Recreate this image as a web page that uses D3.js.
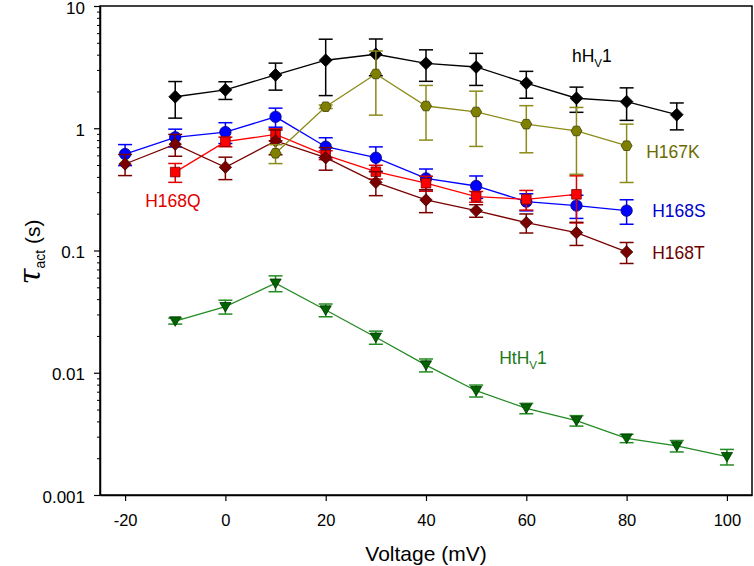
<!DOCTYPE html>
<html><head><meta charset="utf-8">
<script src="https://cdn.jsdelivr.net/npm/d3@7"></script>
<style>body{margin:0;background:#fff}svg{display:block}text{font-family:"Liberation Sans",Arial,sans-serif}</style>
</head><body>
<svg id="c" width="754" height="566"></svg>
<script>
// ---- data ----
const xTicks = [-20,0,20,40,60,80,100];
const yTicks = [0.001,0.01,0.1,1,10];
const yTickLabels = ["0.001","0.01","0.1","1","10"];

const hHv1_V   = [-10,0,10,20,30,40,50,60,70,80,90];
const hHv1_tau = [1.81,2.06,2.73,3.6,4.03,3.40,3.17,2.34,1.76,1.65,1.29];
const hHv1_sem = [0.6,0.34,0.68,1.75,1.34,0.98,0.93,0.58,0.41,0.49,0.32];

const H167K_V   = [10,20,30,40,50,60,70,80];
const H167K_tau = [0.624,1.50,2.78,1.52,1.36,1.08,0.95,0.72];
const H167K_sem = [0.11,0.05,1.5,0.72,0.65,0.45,0.53,0.36];

const H168S_V   = [-20,-10,0,10,20,30,40,50,60,70,80];
const H168S_tau = [0.615,0.843,0.93,1.24,0.706,0.574,0.389,0.337,0.251,0.233,0.212];
const H168S_sem = [0.12,0.14,0.18,0.22,0.13,0.13,0.075,0.07,0.04,0.05,0.048];

const H168Q_V   = [-10,0,10,20,30,40,50,60,70];
const H168Q_tau = [0.438,0.776,0.89,0.604,0.441,0.355,0.276,0.262,0.288];
const H168Q_sem = [0.077,0.07,0.1,0.05,0.057,0.05,0.028,0.048,0.12];

const H168T_V   = [-20,-10,0,10,20,30,40,50,60,70,80];
const H168T_tau = [0.51,0.74,0.48,0.787,0.574,0.361,0.259,0.212,0.169,0.14,0.0973];
const H168T_sem = [0.1,0.15,0.1,0.18,0.12,0.08,0.055,0.025,0.03,0.03,0.019];

const HtHv1_V   = [-10,0,10,20,30,40,50,60,70,80,90,100];
const HtHv1_tau = [0.0265,0.0347,0.054,0.0326,0.0195,0.01156,0.00713,0.00512,0.00406,0.00291,0.00252,0.00206];
const HtHv1_sem = [0.0015,0.0045,0.008,0.0039,0.0024,0.0014,0.0008,0.0005,0.0004,0.00023,0.00027,0.0003];

// ---- layout ----
const svg = d3.select("#c");
const L=100, R=752, T=6, B=495;
const x = d3.scaleLinear().domain([-25,105]).range([L,R]);
const y = d3.scaleLog().domain([0.001,10]).range([B,T]);

// frame
svg.append("rect").attr("x",L).attr("y",T).attr("width",R-L).attr("height",B-T)
  .attr("fill","none").attr("stroke","#000").attr("stroke-width",1.5);

// axes
const xAxis = d3.axisBottom(x).tickValues(xTicks).tickSize(6).tickSizeOuter(0).tickFormat(d3.format("d"));
const gx = svg.append("g").attr("transform",`translate(0,${B})`).call(xAxis);
gx.select(".domain").attr("stroke-width",1.5);
gx.selectAll(".tick line").attr("stroke-width",1.2);
gx.selectAll(".tick text").attr("font-size",16.5).attr("dy","1.35em").attr("fill","#000")
  .text(d=>d<0?"-"+Math.abs(d):d);

const minor = [];
for (let e=-3;e<1;e++) for (let m=2;m<=9;m++) minor.push(m*Math.pow(10,e));
const gym = svg.append("g").attr("transform",`translate(${L},0)`)
  .call(d3.axisLeft(y).tickValues(minor).tickSize(3).tickFormat(""));
gym.select(".domain").remove();
const gy = svg.append("g").attr("transform",`translate(${L},0)`)
  .call(d3.axisLeft(y).tickValues(yTicks).tickSize(6).tickSizeOuter(0).tickFormat((d,i)=>yTickLabels[i]));
gy.select(".domain").attr("stroke-width",1.5);
gy.selectAll(".tick line").attr("stroke-width",1.2);
gy.selectAll(".tick text").attr("font-size",17).attr("x",-15).attr("dy","0.42em").attr("fill","#000");

// axis titles
svg.append("text").attr("x",426).attr("y",561).attr("text-anchor","middle").attr("font-size",21).text("Voltage (mV)");
const yt = svg.append("text").attr("transform","translate(40,252) rotate(-90)").attr("text-anchor","middle").attr("font-size",21);
yt.append("tspan").attr("font-family","'DejaVu Serif',serif").attr("font-style","italic").attr("font-size",29).text("τ");
yt.append("tspan").attr("font-size",14).attr("dy",5).text("act");
yt.append("tspan").attr("dy",-5).text(" (s)");

// ---- series ----
function diamond(s){return `M0,${-s}L${s},0L0,${s}L${-s},0Z`;}
function square(s){return `M${-s},${-s}H${s}V${s}H${-s}Z`;}
function circle(r){return `M${r},0A${r},${r} 0 1,1 ${-r},0A${r},${r} 0 1,1 ${r},0Z`;}
function hexagon(r){let p=[];for(let i=0;i<6;i++){const a=Math.PI/3*i;p.push([r*Math.cos(a),r*Math.sin(a)]);}return "M"+p.map(q=>q.join(",")).join("L")+"Z";}
function triDown(s){return `M${-s},${-s*0.75}L${s},${-s*0.75}L0,${s*0.95}Z`;}

const series = [
  {V:hHv1_V,t:hHv1_tau,e:hHv1_sem,line:"#000",fill:"#000",stroke:"#000",err:"#000",shape:diamond(6.4)},
  {V:H168S_V,t:H168S_tau,e:H168S_sem,line:"#0000ff",fill:"#0000ff",stroke:"#00007a",err:"#0000ff",shape:circle(5.7)},
  {V:H168Q_V,t:H168Q_tau,e:H168Q_sem,line:"#ff0000",fill:"#ff0000",stroke:"#7a0000",err:"#e00000",shape:square(4.8)},
  {V:H168T_V,t:H168T_tau,e:H168T_sem,line:"#7a0000",fill:"#7a0000",stroke:"#3a0000",err:"#7a0000",shape:diamond(6.2)},
  {V:H167K_V,t:H167K_tau,e:H167K_sem,line:"#8b8b1a",fill:"#808000",stroke:"#404000",err:"#8b8b1a",shape:hexagon(5.5)},
  {V:HtHv1_V,t:HtHv1_tau,e:HtHv1_sem,line:"#228b22",fill:"#006400",stroke:"#003300",err:"#228b22",shape:triDown(5.6)}
];

const line = d3.line().x(d=>x(d.v)).y(d=>y(d.t));
series.forEach(s=>{
  const pts = s.V.map((v,i)=>({v,t:s.t[i],e:s.e[i]}));
  const g = svg.append("g");
  g.append("path").datum(pts).attr("d",line).attr("fill","none").attr("stroke",s.line).attr("stroke-width",1.3);
  const eb = g.selectAll(".eb").data(pts).enter().append("g").attr("stroke",s.err).attr("stroke-width",1.5);
  eb.append("line").attr("x1",d=>x(d.v)).attr("x2",d=>x(d.v)).attr("y1",d=>y(d.t+d.e)).attr("y2",d=>y(Math.max(d.t-d.e,1e-4)));
  eb.append("line").attr("x1",d=>x(d.v)-7).attr("x2",d=>x(d.v)+7).attr("y1",d=>y(d.t+d.e)).attr("y2",d=>y(d.t+d.e));
  eb.append("line").attr("x1",d=>x(d.v)-7).attr("x2",d=>x(d.v)+7).attr("y1",d=>y(Math.max(d.t-d.e,1e-4))).attr("y2",d=>y(Math.max(d.t-d.e,1e-4)));
  g.selectAll(".m").data(pts).enter().append("path").attr("d",s.shape)
    .attr("transform",d=>`translate(${x(d.v)},${y(d.t)})`)
    .attr("fill",s.fill).attr("stroke",s.stroke).attr("stroke-width",0.8);
});

// ---- labels ----
const labels = [
  {name:"hH",sub:"V",tail:"1",v:69.1,t:3.48,color:"#000"},
  {name:"H167K",v:83.9,t:0.571,color:"#6b6b00"},
  {name:"H168S",v:85.1,t:0.188,color:"#0000cc"},
  {name:"H168T",v:85.1,t:0.0851,color:"#6b0000"},
  {name:"H168Q",v:-16.0,t:0.227,color:"#e00000"},
  {name:"HtH",sub:"V",tail:"1",v:54.6,t:0.0118,color:"#1a7a1a"}
];
labels.forEach(l=>{
  const tx = svg.append("text").attr("x",x(l.v)).attr("y",y(l.t)).attr("font-size",17.5).attr("fill",l.color);
  tx.append("tspan").text(l.name);
  if (l.sub){
    tx.append("tspan").attr("font-size",11.5).attr("dy",5).text(l.sub);
    tx.append("tspan").attr("dy",-5).text(l.tail);
  }
});
</script>
</body></html>
